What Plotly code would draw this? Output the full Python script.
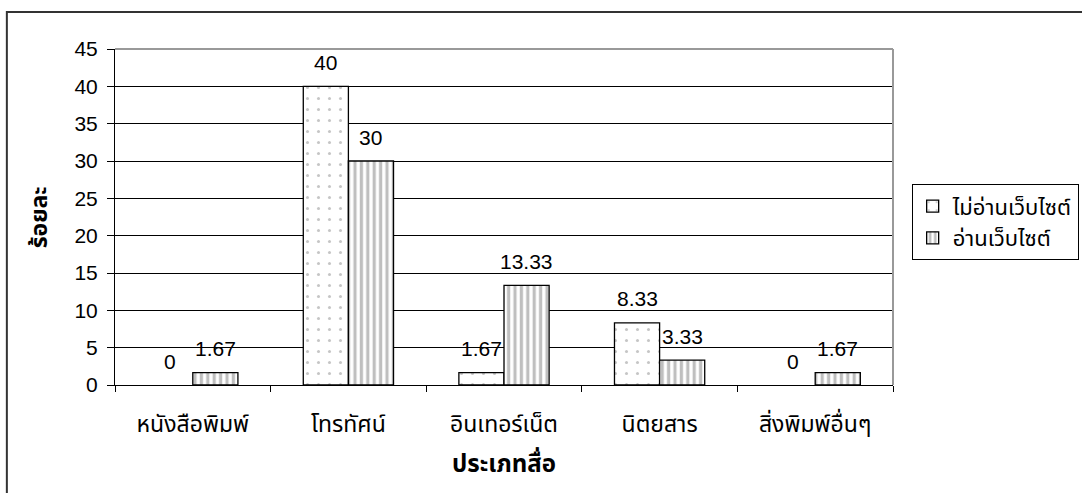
import plotly.graph_objects as go

categories = ["หนังสือพิมพ์", "โทรทัศน์", "อินเทอร์เน็ต", "นิตยสาร", "สิ่งพิมพ์อื่นๆ"]
series_names = ["ไม่อ่านเว็บไซต์", "อ่านเว็บไซต์"]
not_read = [0, 40, 1.67, 8.33, 0]
read = [1.67, 30, 13.33, 3.33, 1.67]
y_ticks = [0, 5, 10, 15, 20, 25, 30, 35, 40, 45]

THAI = "Tahoma, 'Noto Sans Thai', 'Loma', 'Garuda', sans-serif"
NUM = "Arial, 'Liberation Sans', sans-serif"
BARGAP = 0.42


def fmt(v):
    return str(v) if v % 1 else str(int(v))


def drawn(vals):
    # zero-height bars are not drawn (no outline) in the reference
    return [v if v != 0 else None for v in vals]


fig = go.Figure()
fig.add_trace(go.Bar(
    x=categories, y=drawn(not_read), name=series_names[0], legendgroup="a",
    marker=dict(color="white", line=dict(color="black", width=1.3),
                pattern=dict(shape=".", fgcolor="#8c8c8c", bgcolor="white", size=11, solidity=0.06)),
))
fig.add_trace(go.Bar(
    x=categories, y=drawn(read), name=series_names[1], legendgroup="b",
    marker=dict(color="white", line=dict(color="black", width=1.3),
                pattern=dict(shape="|", fgcolor="#7f7f7f", bgcolor="white", size=6.4, solidity=0.5)),
))

# value labels above bars
half = (1 - BARGAP) / 4
annotations = []
for offset, vals in ((-half, not_read), (half, read)):
    for i, v in enumerate(vals):
        annotations.append(dict(x=i + offset, y=v, xref="x", yref="y", text=fmt(v),
                                showarrow=False, xanchor="center", yanchor="middle", yshift=24,
                                font=dict(family=NUM, size=21, color="black")))
annotations.append(dict(x=-0.096, y=0.5, xref="paper", yref="paper", text="<b>ร้อยละ</b>",
                        textangle=-90, showarrow=False, xanchor="center", yanchor="middle",
                        font=dict(family=THAI, size=23, color="black")))

fig.update_layout(
    width=1082, height=493,
    margin=dict(l=115, r=189, t=49, b=108, autoexpand=False),
    paper_bgcolor="white", plot_bgcolor="white",
    barmode="group", bargap=BARGAP, bargroupgap=0,
    showlegend=True,
    legend=dict(x=1.024, y=0.597, xanchor="left", yanchor="top",
                bordercolor="black", borderwidth=1, bgcolor="white",
                font=dict(family=THAI, size=22, color="black"),
                itemwidth=30, tracegroupgap=0),
    annotations=annotations,
    shapes=[
        dict(type="rect", xref="paper", yref="paper", x0=-0.139, y0=-0.5, x1=1.5, y1=1.110,
             line=dict(color="#333333", width=2), layer="below"),
        dict(type="line", xref="paper", yref="paper", x0=0, x1=1, y0=1, y1=1,
             line=dict(color="#999999", width=2)),
        dict(type="line", xref="paper", yref="paper", x0=1, x1=1, y0=0, y1=1,
             line=dict(color="#999999", width=2)),
    ],
)
fig.update_yaxes(
    range=[0, 45], tickvals=y_ticks, showgrid=True, gridcolor="black", gridwidth=1,
    showline=True, linecolor="black", linewidth=1, ticks="outside", ticklen=7, tickcolor="black",
    tickfont=dict(family=NUM, size=21, color="black"), zeroline=False, ticklabelstandoff=5,
)
fig.update_xaxes(
    showline=True, linecolor="black", linewidth=1, ticks="outside", ticklen=6, tickcolor="black",
    tickson="boundaries", showgrid=False, ticklabelstandoff=18,
    tickfont=dict(family=THAI, size=23, color="black"),
    title=dict(text="<b>ประเภทสื่อ</b>", font=dict(family=THAI, size=24, color="black"), standoff=14),
)

fig.write_html("out.html", config={"displayModeBar": False},
               post_script="document.body.style.margin='0';")
